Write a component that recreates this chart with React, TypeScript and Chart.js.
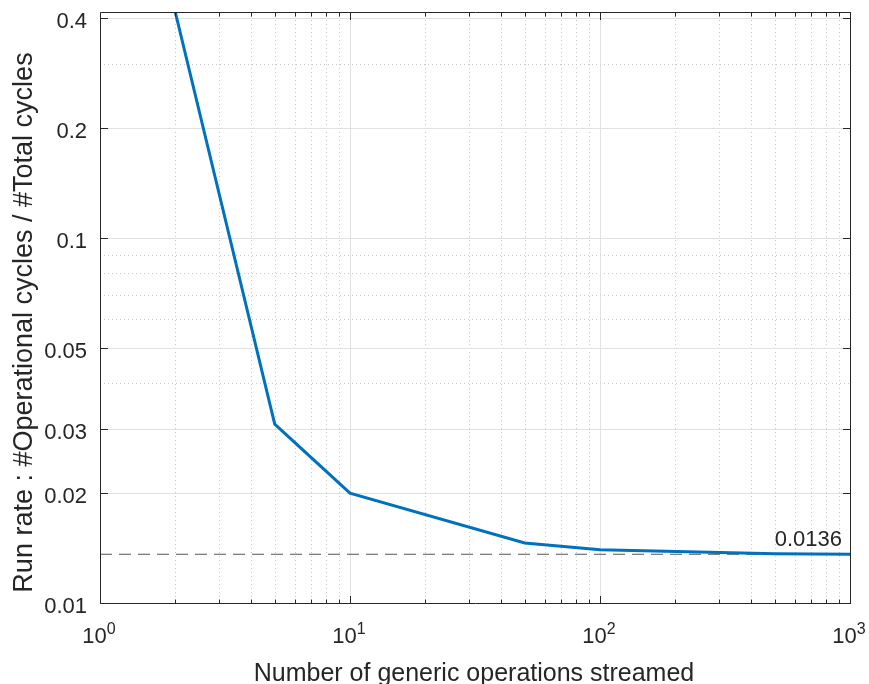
import React, { useEffect, useRef } from "react";
import { Chart, registerables } from "chart.js";

Chart.register(...registerables);

// ---- data ----
const xValues = [2, 5, 10, 50, 100, 500, 1000];
const runRate = [0.416, 0.0309, 0.02, 0.0146, 0.014, 0.01365, 0.0136];
const refValue = 0.0136;
const refLabel = "0.0136";

const xMin = 1;
const xMax = 1000;
const yMin = 0.01;
const yMax = 0.416;

const xMajorTicks = [1, 10, 100, 1000];
const xTickExponents = ["0", "1", "2", "3"];
const xMinorTicks = [2, 3, 4, 5, 6, 7, 8, 9, 20, 30, 40, 50, 60, 70, 80, 90, 200, 300, 400, 500, 600, 700, 800, 900];
const yTicks = [0.01, 0.02, 0.03, 0.05, 0.1, 0.2, 0.4];
const yTickLabels = ["0.01", "0.02", "0.03", "0.05", "0.1", "0.2", "0.4"];
const yMinorGrid = [0.04, 0.06, 0.07, 0.08, 0.09, 0.3];

const xTitle = "Number of generic operations streamed";
const yTitle = "Run rate : #Operational cycles / #Total cycles";

const FONT = '"Liberation Sans", Arial, Helvetica, sans-serif';
const TEXT = "#262626";

const matlabAxes = {
  id: "matlabAxes",
  beforeDatasetsDraw(chart: any) {
    const { ctx, chartArea: a, scales } = chart;
    const x = scales.x;
    const y = scales.y;
    ctx.save();
    ctx.lineWidth = 1;
    // minor dotted grid
    ctx.strokeStyle = "#c8c8c8";
    ctx.setLineDash([1, 3]);
    ctx.beginPath();
    for (const v of xMinorTicks) {
      const px = Math.round(x.getPixelForValue(v)) + 0.5;
      ctx.moveTo(px, a.top);
      ctx.lineTo(px, a.bottom);
    }
    for (const v of yMinorGrid) {
      const py = Math.round(y.getPixelForValue(v)) + 0.5;
      ctx.moveTo(a.left, py);
      ctx.lineTo(a.right, py);
    }
    ctx.stroke();
    // major solid grid
    ctx.setLineDash([]);
    ctx.strokeStyle = "#e1e1e1";
    ctx.beginPath();
    for (const v of xMajorTicks) {
      if (v === xMin || v === xMax) continue;
      const px = Math.round(x.getPixelForValue(v)) + 0.5;
      ctx.moveTo(px, a.top);
      ctx.lineTo(px, a.bottom);
    }
    for (const v of yTicks) {
      if (v === yMin || v === yMax) continue;
      const py = Math.round(y.getPixelForValue(v)) + 0.5;
      ctx.moveTo(a.left, py);
      ctx.lineTo(a.right, py);
    }
    ctx.stroke();
    ctx.restore();
  },
  afterDatasetsDraw(chart: any) {
    const { ctx, chartArea: a, scales } = chart;
    const x = scales.x;
    const y = scales.y;
    ctx.save();
    ctx.setLineDash([]);
    ctx.strokeStyle = TEXT;
    ctx.lineWidth = 1;
    const L = Math.round(a.left) + 0.5;
    const R = Math.round(a.right) + 0.5;
    const T = Math.round(a.top) + 0.5;
    const B = Math.round(a.bottom) + 0.5;
    ctx.beginPath();
    ctx.rect(L, T, R - L, B - T);
    // x ticks
    const major = 7.5;
    const minor = 4;
    for (const v of xMajorTicks) {
      const px = Math.round(x.getPixelForValue(v)) + 0.5;
      ctx.moveTo(px, B);
      ctx.lineTo(px, B - major);
      ctx.moveTo(px, T);
      ctx.lineTo(px, T + major);
    }
    for (const v of xMinorTicks) {
      const px = Math.round(x.getPixelForValue(v)) + 0.5;
      ctx.moveTo(px, B);
      ctx.lineTo(px, B - minor);
      ctx.moveTo(px, T);
      ctx.lineTo(px, T + minor);
    }
    for (const v of yTicks) {
      const py = Math.round(y.getPixelForValue(v)) + 0.5;
      ctx.moveTo(L, py);
      ctx.lineTo(L + major, py);
      ctx.moveTo(R, py);
      ctx.lineTo(R - major, py);
    }
    ctx.stroke();

    ctx.fillStyle = TEXT;
    // y tick labels
    ctx.font = `22px ${FONT}`;
    ctx.textAlign = "right";
    ctx.textBaseline = "alphabetic";
    yTicks.forEach((v, i) => {
      const py = y.getPixelForValue(v);
      ctx.fillText(yTickLabels[i], a.left - 13, py + 10);
    });
    // x tick labels 10^n
    xMajorTicks.forEach((v, i) => {
      const px = x.getPixelForValue(v);
      ctx.font = `22px ${FONT}`;
      const wb = ctx.measureText("10").width;
      ctx.font = `16px ${FONT}`;
      const we = ctx.measureText(xTickExponents[i]).width;
      const start = px - (wb + we) / 2 - 1;
      ctx.textAlign = "left";
      ctx.font = `22px ${FONT}`;
      ctx.fillText("10", start, a.bottom + 40);
      ctx.font = `16px ${FONT}`;
      ctx.fillText(xTickExponents[i], start + wb, a.bottom + 31);
    });
    // reference label
    ctx.font = `22px ${FONT}`;
    ctx.textAlign = "right";
    ctx.fillText(refLabel, x.getPixelForValue(xMax) - 8, y.getPixelForValue(refValue) - 8.5);
    // axis titles
    ctx.font = `25px ${FONT}`;
    ctx.textAlign = "center";
    ctx.fillText(xTitle, (a.left + a.right) / 2 - 1, a.bottom + 78);
    ctx.save();
    ctx.translate(32, (a.top + a.bottom) / 2 + 15);
    ctx.rotate(-Math.PI / 2);
    ctx.font = `27px ${FONT}`;
    ctx.textAlign = "center";
    ctx.fillText(yTitle, 0, 0);
    ctx.restore();
    ctx.restore();
  },
};

export default function App() {
  const ref = useRef<HTMLCanvasElement>(null);
  useEffect(() => {
    if (!ref.current) return;
    const chart = new Chart(ref.current, {
      type: "line",
      data: {
        datasets: [
          {
            label: "Run rate",
            data: xValues.map((v, i) => ({ x: v, y: runRate[i] })),
            borderColor: "#0072BD",
            borderWidth: 3,
            pointRadius: 0,
            tension: 0,
            fill: false,
            order: 0,
          },
          {
            label: "Asymptote",
            data: [
              { x: xMin, y: refValue },
              { x: xMax, y: refValue },
            ],
            borderColor: "#555555",
            borderWidth: 1,
            borderDash: [12, 7],
            pointRadius: 0,
            fill: false,
            order: 1,
          },
        ],
      },
      options: {
        responsive: false,
        animation: false,
        devicePixelRatio: 1,
        layout: { padding: { left: 100, top: 12, right: 19, bottom: 81 } },
        plugins: { legend: { display: false }, tooltip: { enabled: false } },
        scales: {
          x: { type: "logarithmic", min: xMin, max: xMax, display: false },
          y: { type: "logarithmic", min: yMin, max: yMax, display: false },
        },
      },
      plugins: [matlabAxes],
    } as any);
    return () => chart.destroy();
  }, []);
  return (
    <div style={{ position: "absolute", left: 0, top: 0, width: 869, height: 684, background: "#fff" }}>
      <canvas ref={ref} width={869} height={684} style={{ display: "block" }} />
    </div>
  );
}
